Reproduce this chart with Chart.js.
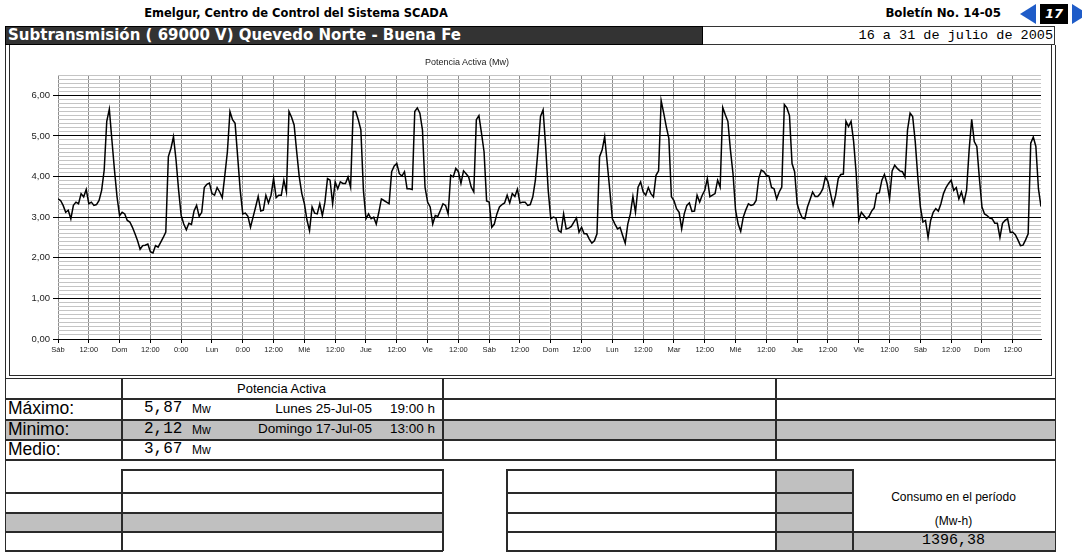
<!DOCTYPE html>
<html>
<head>
<meta charset="utf-8">
<script src="https://cdn.jsdelivr.net/npm/chart.js@4.4.0/dist/chart.umd.min.js"></script>
<style>
  body { margin: 0; background: #fff; }
  #page { position: relative; width: 1082px; height: 552px; overflow: hidden;
          font-family: "Liberation Sans", Arial, sans-serif; color: #000; }
  .a { position: absolute; }
  .t { position: absolute; white-space: nowrap; }
  .bold { font-family: "DejaVu Sans", Verdana, sans-serif; font-weight: bold; }
  .mono { font-family: "Liberation Mono", "Courier New", monospace; }
  #chartBox { position: absolute; left: 12px; top: 48px; width: 1036px; height: 326px; }
</style>
</head>
<body>
<div id="page">
  <!-- cabecera -->
  <div class="t bold" style="left:0;width:592px;top:6px;text-align:center;font-size:11.5px;">Emelgur, Centro de Control del Sistema SCADA</div>
  <div class="t bold" style="right:81px;top:6px;font-size:11.8px;">Boletín No. 14-05</div>
  <div class="a" style="left:1020px;top:4px;width:0;height:0;border-top:10px solid transparent;border-bottom:10px solid transparent;border-right:16px solid #1f5cc8;"></div>
  <div class="a" style="left:1040px;top:4px;width:28px;height:20px;background:#000;"></div>
  <div class="t bold" style="left:1040px;top:4px;width:28px;height:20px;line-height:20px;text-align:center;color:#fff;font-style:italic;font-size:13px;">17</div>
  <div class="a" style="left:1072px;top:4px;width:0;height:0;border-top:10px solid transparent;border-bottom:10px solid transparent;border-left:16px solid #1f5cc8;"></div>

  <div class="a" style="left:5px;top:26px;width:698px;height:19px;background:#333;border:1px solid #000;box-sizing:border-box;"></div>
  <div class="t bold" style="left:8px;top:26px;height:19px;line-height:19px;color:#fff;font-size:15px;">Subtransmisión ( 69000 V) Quevedo Norte - Buena Fe</div>
  <div class="a" style="left:703px;top:26px;width:352px;height:19px;border:1px solid #333;border-left:none;box-sizing:border-box;"></div>
  <div class="t mono" style="right:29px;top:26px;height:19px;line-height:19px;font-size:13.5px;">16 a 31 de julio de 2005</div>

  <div id="chartBox"><canvas id="potenciaChart" width="1036" height="326"></canvas></div>
  <div class="t" style="left:367px;width:200px;top:57px;text-align:center;font-size:9px;color:#222;">Potencia Activa (Mw)</div>

  <!-- resumen -->
  <div class="t" style="left:121px;width:321px;top:379px;height:19px;line-height:19px;text-align:center;font-size:13px;">Potencia Activa</div>
  <div class="t" style="left:8px;top:398px;height:21px;line-height:21px;font-size:17.5px;">Máximo:</div>
  <div class="t" style="left:8px;top:419px;height:20px;line-height:20px;font-size:17.5px;">Minimo:</div>
  <div class="t" style="left:8px;top:439px;height:20px;line-height:20px;font-size:17.5px;">Medio:</div>
  <div class="t mono" style="left:144px;top:398px;height:21px;line-height:21px;font-size:16px;" id="vMax"></div>
  <div class="t mono" style="left:144px;top:419px;height:20px;line-height:20px;font-size:16px;" id="vMin"></div>
  <div class="t mono" style="left:144px;top:439px;height:20px;line-height:20px;font-size:16px;" id="vMed"></div>
  <div class="t" style="left:192px;top:399px;height:21px;line-height:21px;font-size:12px;">Mw</div>
  <div class="t" style="left:192px;top:420px;height:20px;line-height:20px;font-size:12px;">Mw</div>
  <div class="t" style="left:192px;top:440px;height:20px;line-height:20px;font-size:12px;">Mw</div>
  <div class="t" style="right:710px;top:398px;height:21px;line-height:21px;font-size:13.5px;" id="fMax"></div>
  <div class="t" style="right:710px;top:419px;height:20px;line-height:20px;font-size:13.5px;" id="fMin"></div>
  <div class="t" style="right:647px;top:398px;height:21px;line-height:21px;font-size:13.5px;" id="hMax"></div>
  <div class="t" style="right:647px;top:419px;height:20px;line-height:20px;font-size:13.5px;" id="hMin"></div>

  <div class="t" style="left:852px;width:203px;top:490px;text-align:center;font-size:12px;">Consumo en el período</div>
  <div class="t" style="left:852px;width:203px;top:512px;height:19px;line-height:19px;text-align:center;font-size:12px;">(Mw-h)</div>
  <div class="t mono" style="left:852px;width:203px;top:531px;height:19px;line-height:19px;text-align:center;font-size:15px;" id="vCons"></div>
</div>

<script>
// Potencia activa horaria (Mw), 16 al 31 de julio de 2005, una fila por día
const potenciaMw = [
  3.45, 3.41, 3.29, 3.12, 3.17, 2.96, 3.29, 3.37, 3.33, 3.58, 3.50, 3.68, 3.33, 3.37, 3.29, 3.31, 3.41, 3.66, 4.16, 5.36, 5.66, 4.90, 4.16, 3.50, // sáb 16
  3.04, 3.12, 3.08, 2.92, 2.88, 2.75, 2.59, 2.42, 2.21, 2.30, 2.31, 2.34, 2.15, 2.12, 2.30, 2.26, 2.38, 2.50, 2.63, 4.49, 4.69, 4.98, 4.40, 3.66, // dom 17
  3.04, 2.83, 2.69, 2.85, 2.82, 3.15, 3.29, 3.02, 3.12, 3.73, 3.81, 3.84, 3.58, 3.54, 3.73, 3.62, 3.48, 4.03, 4.61, 5.60, 5.40, 5.31, 4.49, 3.66, // lun 18
  3.08, 3.10, 3.02, 2.75, 3.00, 3.25, 3.51, 3.15, 3.17, 3.54, 3.35, 3.54, 3.95, 3.48, 3.54, 3.54, 3.91, 3.62, 5.60, 5.46, 5.27, 4.61, 3.99, 3.58, // mar 19
  3.33, 2.93, 2.67, 3.25, 3.10, 3.08, 3.33, 3.04, 3.37, 3.95, 3.91, 3.33, 3.87, 3.70, 3.87, 3.83, 3.83, 3.99, 3.74, 5.60, 5.60, 5.40, 5.15, 3.66, // mié 20
  2.96, 3.08, 2.96, 3.00, 2.83, 3.12, 3.45, 3.41, 3.37, 3.33, 4.12, 4.26, 4.32, 4.07, 4.01, 4.12, 3.70, 3.70, 3.68, 5.60, 5.69, 5.56, 5.15, 3.74, // jue 21
  3.37, 3.25, 2.83, 3.04, 3.02, 3.17, 3.33, 3.29, 3.08, 4.03, 3.99, 4.20, 4.12, 3.83, 4.14, 4.07, 3.99, 3.74, 3.62, 5.40, 5.50, 5.07, 4.61, 3.40, // vie 22
  3.37, 2.75, 2.83, 3.08, 3.25, 3.31, 3.35, 3.54, 3.35, 3.58, 3.51, 3.69, 3.35, 3.37, 3.37, 3.29, 3.31, 3.50, 3.91, 4.65, 5.48, 5.64, 4.74, 3.66, // sáb 23
  2.96, 3.00, 2.98, 2.67, 2.63, 3.08, 2.71, 2.73, 2.77, 2.88, 2.98, 2.63, 2.75, 2.59, 2.59, 2.46, 2.36, 2.42, 2.59, 4.49, 4.65, 4.98, 4.32, 3.66, // dom 24
  2.96, 2.83, 2.71, 2.75, 2.55, 2.36, 2.83, 3.08, 3.51, 3.12, 3.74, 3.87, 3.62, 3.54, 3.73, 3.58, 3.50, 4.03, 4.14, 5.87, 5.56, 5.23, 4.94, 3.50, // lun 25
  3.41, 3.21, 3.12, 2.71, 3.08, 3.29, 3.35, 3.14, 3.15, 3.54, 3.37, 3.54, 3.66, 3.95, 3.50, 3.54, 3.58, 3.91, 3.74, 5.70, 5.52, 5.36, 4.65, 4.07, // mar 26
  3.17, 2.83, 2.65, 3.00, 3.18, 3.33, 3.29, 3.31, 3.41, 3.95, 4.16, 4.12, 4.03, 4.01, 3.73, 3.70, 3.45, 3.62, 3.74, 5.77, 5.69, 5.50, 4.32, 4.12, // mié 27
  3.33, 3.12, 2.98, 2.96, 3.25, 3.43, 3.62, 3.51, 3.51, 3.58, 3.70, 3.99, 3.87, 3.58, 3.29, 3.54, 3.95, 4.05, 4.06, 5.36, 5.23, 5.36, 4.86, 4.07, // jue 28
  2.92, 3.12, 3.04, 2.96, 3.02, 3.15, 3.23, 3.58, 3.60, 3.91, 4.05, 3.83, 3.45, 4.14, 4.28, 4.20, 4.14, 4.12, 3.99, 5.15, 5.56, 5.48, 4.86, 3.99, // vie 29
  3.25, 2.88, 2.92, 2.50, 2.92, 3.12, 3.21, 3.15, 3.33, 3.58, 3.73, 3.83, 3.91, 3.66, 3.73, 3.45, 3.62, 3.37, 3.66, 4.65, 5.41, 4.86, 4.74, 3.95, // sáb 30
  3.25, 3.08, 3.04, 2.98, 2.96, 2.85, 2.85, 2.50, 2.85, 2.92, 2.96, 2.63, 2.63, 2.57, 2.44, 2.30, 2.31, 2.44, 2.59, 4.82, 4.97, 4.74, 3.70, 3.26  // dom 31
];

// etiquetas del eje horizontal, una cada 12 horas (tal como aparecen en el boletín)
const xTickLabels = ['Sáb','12:00','Dom','12:00','0:00','Lun','0:00','12:00','Mié','12:00','Jue','12:00',
  'Vie','12:00','Sáb','12:00','Dom','12:00','Lun','12:00','Mar','12:00','Mié','12:00','Jue','12:00',
  'Vie','12:00','Sáb','12:00','Dom','12:00'];
const yMin = 0, yMax = 6.5, yStep = 0.1;

// valores del resumen
const resumenValores = { max: '5,87', min: '2,12', medio: '3,67', consumo: '1396,38' };
const resumenFechas = { max: 'Lunes 25-Jul-05', min: 'Domingo 17-Jul-05' };
const resumenHoras = { max: '19:00 h', min: '13:00 h' };

document.getElementById('vMax').textContent = resumenValores.max;
document.getElementById('vMin').textContent = resumenValores.min;
document.getElementById('vMed').textContent = resumenValores.medio;
document.getElementById('vCons').textContent = resumenValores.consumo;
document.getElementById('fMax').textContent = resumenFechas.max;
document.getElementById('fMin').textContent = resumenFechas.min;
document.getElementById('hMax').textContent = resumenHoras.max;
document.getElementById('hMin').textContent = resumenHoras.min;

// rejilla de tablas y marco
const page = document.getElementById('page');
function fill(x1, y1, x2, y2, color) {
  const d = document.createElement('div');
  d.className = 'a';
  d.style.cssText = `left:${x1}px;top:${y1}px;width:${x2 - x1}px;height:${y2 - y1}px;background:${color};`;
  page.insertBefore(d, page.firstChild);
  return d;
}
// w = grosor; las líneas de tabla del boletín escaneado se ven algo gruesas
function hline(y, x1, x2, w = 2) { page.appendChild(fill(x1, y, x2 + 1, y + w, '#2a2a2a')); }
function vline(x, y1, y2, w = 2) { page.appendChild(fill(x, y1, x + w, y2 + 1, '#2a2a2a')); }

// zonas grises
fill(5, 419, 1055, 439, '#c0c0c0');
fill(5, 512, 442, 531, '#c0c0c0');
fill(775, 469, 852, 550, '#c0c0c0');
fill(852, 531, 1055, 550, '#c0c0c0');

// marco del gráfico (doble línea)
vline(5, 45, 551, 1); vline(9, 45, 375, 1);
vline(1055, 45, 551, 1); vline(1051, 45, 375, 1);
hline(375, 9, 1051, 1); hline(378, 5, 1055, 1);
// tabla superior
[398, 419, 439, 459].forEach(y => hline(y, 5, 1055));
[121, 442, 775].forEach(x => vline(x, 378, 459));
// tabla inferior izquierda
hline(469, 121, 442);
[492, 512, 531, 550].forEach(y => hline(y, 5, 442));
[121, 442].forEach(x => vline(x, 469, 550));
// tabla inferior derecha
hline(469, 506, 852);
[492, 512].forEach(y => hline(y, 506, 852));
hline(531, 506, 1055);
hline(550, 506, 1055);
[506, 775, 852].forEach(x => vline(x, 469, 550));

const isMajor = v => Math.abs(v - Math.round(v)) < 1e-6;

new Chart(document.getElementById('potenciaChart'), {
  type: 'line',
  data: {
    datasets: [{
      data: potenciaMw.map((v, i) => ({ x: i, y: v })),
      borderColor: '#000',
      borderWidth: 1.5,
      pointRadius: 0,
      tension: 0,
      fill: false
    }]
  },
  options: {
    responsive: false,
    animation: false,
    layout: { padding: { top: 27, right: 7, bottom: 0, left: 0 } },
    plugins: {
      legend: { display: false },
      tooltip: { enabled: false },
      title: { display: false }
    },
    scales: {
      x: {
        type: 'linear',
        min: 0,
        max: potenciaMw.length - 1,
        afterFit: s => { s.height = 35; },
        border: { color: '#000', width: 1 },
        grid: { color: '#8c8c8c', lineWidth: 1, tickColor: '#000', tickLength: 4 },
        ticks: {
          stepSize: 12,
          includeBounds: false,
          autoSkip: false,
          maxRotation: 0,
          padding: 2,
          color: '#222',
          font: { family: 'Liberation Sans', size: 7.5 },
          callback: v => xTickLabels[Math.round(v / 12)] ?? ''
        }
      },
      y: {
        min: yMin,
        max: yMax,
        afterFit: s => { s.width = 46; },
        border: { display: false },
        grid: {
          color: c => (c.tick && isMajor(c.tick.value)) ? '#000' : '#c4c4c4',
          tickColor: c => (c.tick && isMajor(c.tick.value)) ? '#000' : 'rgba(0,0,0,0)',
          lineWidth: 1,
          tickLength: 5
        },
        ticks: {
          stepSize: yStep,
          autoSkip: false,
          padding: 3,
          color: '#222',
          font: { family: 'Liberation Sans', size: 9.5 },
          callback: v => isMajor(v) ? v.toFixed(2).replace('.', ',') : ''
        }
      }
    }
  }
});
</script>
</body>
</html>
